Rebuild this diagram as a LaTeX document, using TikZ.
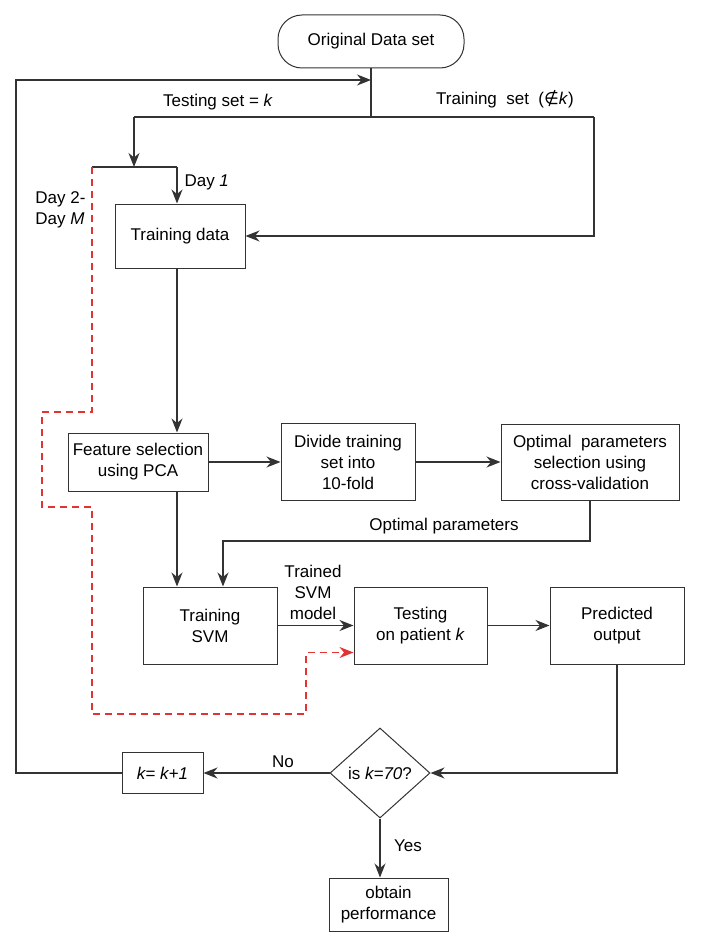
\documentclass[tikz,border=0pt]{standalone}
\usepackage{fontspec}
\setmainfont{Liberation Sans}
\newfontfamily\symfont{DejaVu Sans}
\usetikzlibrary{shapes.geometric,arrows.meta}
\definecolor{dayred}{RGB}{228,50,50}
\begin{document}
\begin{tikzpicture}[x=1pt,y=-1pt,
  every node/.style={font=\fontsize{17}{21}\selectfont},
  box/.style={draw=black!80, line width=1pt, align=center, inner sep=0pt},
  line/.style={draw=black!80, line width=1.2pt},
  arr/.style={line, -{Stealth[length=14pt,width=11pt,inset=4.5pt]}},
  daydash/.style={draw=dayred, line width=1.1pt, dash pattern=on 7pt off 5pt,
    -{Stealth[length=14pt,width=11pt,inset=4.5pt]}}]
\useasboundingbox (0,0) rectangle (702,947);
% nodes
\node[box, rounded corners=24pt, minimum width=186pt, minimum height=53pt] (orig) at (371,41.5) {Original Data set};
\node[box, minimum width=130pt, minimum height=64pt] (train) at (180,236) {Training data};
\node[box, minimum width=140pt, minimum height=58pt] (feat) at (138,462) {Feature selection\\using PCA};
\node[box, minimum width=134pt, minimum height=77pt] (divide) at (348,462) {Divide training\\set into\\10-fold};
\node[box, minimum width=178pt, minimum height=76pt] (optim) at (590,462) {Optimal\ \ parameters\\selection using\\cross-validation};
\node[box, minimum width=134pt, minimum height=77pt] (svm) at (210,625.5) {Training\\SVM};
\node[box, minimum width=133pt, minimum height=77pt] (test) at (420.5,625.5) {Testing\\on patient \textit{k}};
\node[box, minimum width=134pt, minimum height=77pt] (pred) at (617,625.5) {Predicted\\output};
\node[draw=black!80, line width=1pt, diamond, aspect=1.1, minimum width=100pt, minimum height=90pt, inner sep=0pt] (dec) at (380,773) {is \textit{k=70}?};
\node[box, minimum width=81pt, minimum height=41pt] (kinc) at (162.5,773) {\textit{k= k+1}};
\node[box, minimum width=119pt, minimum height=53pt] (perf) at (388.5,904.5) {obtain\\performance};
% labels
\node (lbltest) at (218,102) {Testing set = \textit{k}};
\node (lbltrain) at (505,99) {Training\ \ set\ \ ({\symfont ∉}\textit{k})};
\node[anchor=west] (lblday1) at (181,182) {Day \textit{1}};
\node[anchor=east, align=left] (lbldaym) at (89,210) {Day 2-\\Day \textit{M}};
\node[align=center] (lblsvm) at (313,592) {Trained\\SVM\\model};
\node (lblopt) at (444,526) {Optimal parameters};
\node (lblno) at (283,762) {No};
\node (lblyes) at (408,846) {Yes};
% bends
\coordinate (fork) at (371,117);
\coordinate (forkL) at (134,117);
\coordinate (forkR) at (594,117);
\coordinate (dayfork) at (134,167);
\coordinate (daym) at (92,167);
\coordinate (spine) at (177,167);
\coordinate (optbend) at (223,541);
\coordinate (loop) at (16,80);
% arrows
\draw[line] (orig) -- (fork);
\draw[line] (forkL) -- (forkR);
\draw[arr] (forkL) -- (dayfork);
\draw[arr] (forkR) |- (train);
\draw[line] (daym) -- (spine);
\draw[arr] (spine) -- (spine |- train.north);
\draw[arr] (spine |- train.south) -- (spine |- feat.north);
\draw[arr] (spine |- feat.south) -- (spine |- svm.north);
\draw[arr] (feat) -- (divide);
\draw[arr] (divide) -- (optim);
\draw[arr] (optim.south) |- (optbend) -- (optbend |- svm.north);
\draw[arr] (svm) -- (test);
\draw[arr] (test) -- (pred);
\draw[arr] (pred) |- (dec);
\draw[arr] (dec) -- (kinc);
\draw[arr] (kinc) -| (loop) -- (loop -| fork);
\draw[arr] (dec) -- (dec |- perf.north);
\draw[daydash] (daym) -- ++(0,245) -- ++(-50,0) -- ++(0,95) -- ++(50,0) -- ++(0,207) -- ++(214,0) |- ([yshift=12pt]test.south west);
\end{tikzpicture}
\end{document}
